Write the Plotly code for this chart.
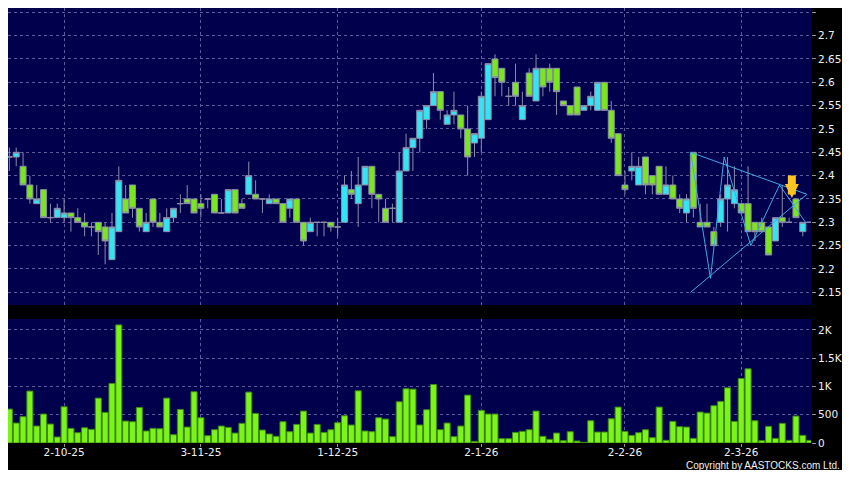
import plotly.graph_objects as go
from plotly.subplots import make_subplots

# daily OHLC, one bar per trading day (index 0 .. 117)
opens = [2.44, 2.44, 2.42, 2.38, 2.34, 2.37, 2.31, 2.31, 2.31, 2.32,
         2.31, 2.30, 2.29, 2.30, 2.29, 2.22, 2.28, 2.35, 2.38, 2.33,
         2.28, 2.35, 2.30, 2.28, 2.31, 2.34, 2.35, 2.35, 2.34, 2.35,
         2.36, 2.32, 2.32, 2.37, 2.34, 2.36, 2.36, 2.35, 2.34, 2.35,
         2.34, 2.33, 2.35, 2.30, 2.28, 2.30, 2.30, 2.30, 2.29, 2.30,
         2.37, 2.34, 2.38, 2.42, 2.36, 2.33, 2.33, 2.30, 2.41, 2.46,
         2.48, 2.52, 2.55, 2.58, 2.51, 2.53, 2.53, 2.50, 2.47, 2.48,
         2.52, 2.65, 2.63, 2.57, 2.60, 2.52, 2.62, 2.56, 2.63, 2.63,
         2.63, 2.56, 2.55, 2.59, 2.54, 2.55, 2.54, 2.60, 2.54, 2.49,
         2.38, 2.41, 2.38, 2.44, 2.40, 2.42, 2.36, 2.38, 2.35, 2.32,
         2.45, 2.30, 2.30, 2.28, 2.30, 2.35, 2.34, 2.34, 2.34, 2.30,
         2.30, 2.29, 2.26, 2.31, 2.30, 2.35, 2.28, 2.30]
highs = [2.46, 2.46, 2.45, 2.40, 2.38, 2.37, 2.34, 2.34, 2.35, 2.32,
         2.33, 2.32, 2.30, 2.30, 2.30, 2.32, 2.42, 2.38, 2.38, 2.33,
         2.32, 2.35, 2.32, 2.33, 2.33, 2.36, 2.38, 2.35, 2.36, 2.35,
         2.36, 2.35, 2.37, 2.37, 2.35, 2.43, 2.39, 2.35, 2.36, 2.35,
         2.34, 2.35, 2.35, 2.30, 2.31, 2.30, 2.30, 2.30, 2.31, 2.40,
         2.41, 2.44, 2.42, 2.42, 2.36, 2.35, 2.34, 2.45, 2.49, 2.48,
         2.54, 2.55, 2.62, 2.58, 2.54, 2.58, 2.53, 2.55, 2.49, 2.58,
         2.64, 2.66, 2.63, 2.59, 2.64, 2.58, 2.63, 2.66, 2.63, 2.64,
         2.63, 2.56, 2.55, 2.59, 2.55, 2.58, 2.60, 2.60, 2.56, 2.49,
         2.41, 2.45, 2.44, 2.44, 2.40, 2.42, 2.42, 2.40, 2.36, 2.36,
         2.45, 2.34, 2.34, 2.29, 2.36, 2.44, 2.42, 2.34, 2.42, 2.30,
         2.31, 2.29, 2.31, 2.38, 2.31, 2.35, 2.30, 2.30]
lows = [2.41, 2.42, 2.38, 2.34, 2.34, 2.31, 2.30, 2.31, 2.30, 2.28,
        2.30, 2.27, 2.27, 2.23, 2.21, 2.22, 2.28, 2.32, 2.31, 2.28,
        2.28, 2.29, 2.29, 2.28, 2.30, 2.32, 2.34, 2.32, 2.31, 2.33,
        2.32, 2.32, 2.32, 2.32, 2.33, 2.36, 2.35, 2.32, 2.34, 2.34,
        2.30, 2.31, 2.30, 2.25, 2.28, 2.27, 2.27, 2.28, 2.27, 2.30,
        2.35, 2.29, 2.38, 2.33, 2.30, 2.30, 2.30, 2.30, 2.41, 2.41,
        2.45, 2.50, 2.55, 2.52, 2.51, 2.51, 2.48, 2.40, 2.44, 2.45,
        2.52, 2.57, 2.57, 2.55, 2.55, 2.52, 2.57, 2.56, 2.57, 2.58,
        2.53, 2.55, 2.53, 2.53, 2.54, 2.54, 2.54, 2.54, 2.47, 2.40,
        2.36, 2.39, 2.38, 2.36, 2.36, 2.36, 2.36, 2.35, 2.32, 2.30,
        2.31, 2.29, 2.29, 2.25, 2.29, 2.28, 2.33, 2.32, 2.28, 2.26,
        2.28, 2.23, 2.26, 2.29, 2.30, 2.31, 2.27, 2.30]
closes = [2.44, 2.45, 2.38, 2.35, 2.35, 2.31, 2.31, 2.33, 2.32, 2.31,
          2.30, 2.29, 2.29, 2.28, 2.26, 2.29, 2.39, 2.32, 2.33, 2.29,
          2.30, 2.30, 2.29, 2.31, 2.33, 2.34, 2.34, 2.32, 2.33, 2.35,
          2.32, 2.32, 2.37, 2.32, 2.33, 2.40, 2.35, 2.35, 2.35, 2.34,
          2.30, 2.35, 2.30, 2.26, 2.30, 2.30, 2.30, 2.29, 2.29, 2.38,
          2.36, 2.38, 2.42, 2.36, 2.35, 2.30, 2.33, 2.41, 2.46, 2.48,
          2.54, 2.55, 2.58, 2.54, 2.53, 2.54, 2.50, 2.44, 2.49, 2.57,
          2.64, 2.61, 2.60, 2.57, 2.57, 2.55, 2.57, 2.63, 2.59, 2.60,
          2.58, 2.55, 2.53, 2.53, 2.55, 2.57, 2.60, 2.54, 2.48, 2.40,
          2.37, 2.42, 2.42, 2.38, 2.38, 2.36, 2.38, 2.35, 2.33, 2.35,
          2.33, 2.29, 2.29, 2.25, 2.35, 2.38, 2.37, 2.32, 2.28, 2.28,
          2.28, 2.23, 2.31, 2.30, 2.30, 2.31, 2.30, 2.30]
# volume in thousands of shares
volumes = [600, 353, 465, 918, 300, 512, 335, 106, 641, 259,
           182, 270, 241, 794, 541, 1053, 2088, 388, 376, 629,
           212, 259, 253, 794, 147, 594, 282, 906, 447, 129,
           235, 300, 276, 176, 347, 900, 523, 229, 159, 118,
           376, 200, 329, 565, 176, 329, 188, 235, 359, 482,
           318, 923, 212, 200, 447, 423, 112, 729, 959, 953,
           318, 588, 1035, 235, 353, 112, 300, 847, 29, 576,
           512, 512, 76, 76, 188, 206, 235, 565, 118, 65,
           176, 41, 200, 35, 12, 394, 194, 194, 429, 635,
           206, 135, 182, 235, 94, 635, 47, 382, 288, 282,
           82, 547, 529, 659, 735, 976, 382, 1141, 1312, 394,
           41, 294, 82, 347, 47, 476, 135, 47]

date_ticks = [8, 28, 48, 69, 90, 107]
date_labels = ["2-10-25", "3-11-25", "1-12-25", "2-1-26", "2-2-26", "2-3-26"]
price_ticks = [2.15, 2.2, 2.25, 2.3, 2.35, 2.4, 2.45, 2.5, 2.55, 2.6, 2.65, 2.7, 2.75]
price_labels = ["2.15", "2.2", "2.25", "2.3", "2.35", "2.4", "2.45", "2.5",
                "2.55", "2.6", "2.65", "2.7", "2.75"]
vol_ticks = [0, 500, 1000, 1500, 2000]
vol_labels = ["0", "500", "1K", "1.5K", "2K"]

# triangle pattern drawn over the last weeks
zigzag_x = [99.6, 102.5, 104.5, 108.4, 112.6, 116.4]
zigzag_y = [2.45, 2.18, 2.44, 2.25, 2.38, 2.30]
upper_x = [99.6, 116.6]
upper_y = [2.45, 2.36]
lower_x = [99.6, 116.6]
lower_y = [2.15, 2.36]
signal_x = 114.4
signal_y = 2.352

days = list(range(len(closes)))

BG = "#000000"
PANEL = "#00004C"
GRID = "#5C5C9C"
WICK = "#8C8CA8"
UP = "#33E4F2"
DOWN = "#7AE61E"
LINE = "#3FA9E6"
TXT = "#F0F0F0"

fig = make_subplots(rows=2, cols=1, shared_xaxes=True)

fig.add_trace(go.Candlestick(
    x=days, open=opens, high=highs, low=lows, close=closes,
    increasing=dict(fillcolor=UP, line=dict(color=WICK, width=1)),
    decreasing=dict(fillcolor=DOWN, line=dict(color=WICK, width=1)),
    showlegend=False, hoverinfo="skip"), row=1, col=1)

for xs, ys in [(upper_x, upper_y), (lower_x, lower_y), (zigzag_x, zigzag_y)]:
    fig.add_trace(go.Scatter(x=xs, y=ys, mode="lines",
                             line=dict(color=LINE, width=1),
                             showlegend=False, hoverinfo="skip"), row=1, col=1)

fig.add_trace(go.Bar(x=days, y=volumes, marker=dict(color="#7CF41A",
                     line=dict(color="#3C8A10", width=1)),
                     showlegend=False, hoverinfo="skip"), row=2, col=1)

fig.add_annotation(x=signal_x, y=signal_y, xref="x", yref="y", text="",
                   showarrow=True, ax=0, ay=-24, arrowhead=2, arrowsize=0.35,
                   arrowwidth=8, arrowcolor="#FFC41E")

axis_font = dict(family="DejaVu Sans", size=10.5, color=TXT)
fig.update_xaxes(range=[-0.2, 117.2], domain=[0, 1], showgrid=True,
                 gridcolor=GRID, griddash="3px,3px", gridwidth=1,
                 tickvals=date_ticks, ticktext=date_labels,
                 zeroline=False, showline=False)
fig.update_xaxes(showticklabels=False, ticks="", row=1, col=1)
fig.update_xaxes(ticks="outside", ticklen=3, tickcolor="#909090",
                 ticklabelstandoff=-4, tickfont=axis_font, row=2, col=1)

fig.update_yaxes(side="right", automargin=False,
                 showgrid=True, gridcolor=GRID, griddash="3px,3px",
                 zeroline=False, showline=False, ticks="outside",
                 ticklen=4, tickcolor="#909090", tickfont=axis_font)
fig.update_yaxes(range=[2.1228, 2.7592], domain=[0.3172, 1.0],
                 tickvals=price_ticks, ticktext=price_labels, row=1, col=1)
fig.update_yaxes(range=[0, 2193], domain=[0.0, 0.2851],
                 tickvals=vol_ticks, ticktext=vol_labels, row=2, col=1)

fig.add_annotation(x=1.0374, y=-0.0517, xref="paper", yref="paper",
                   xanchor="right", yanchor="middle", showarrow=False,
                   borderpad=0,
                   text="Copyright by AASTOCKS.com Ltd.",
                   font=dict(family="Liberation Sans", size=10, color=TXT))

fig.update_layout(width=834, height=462, paper_bgcolor=BG, plot_bgcolor=PANEL,
                  margin=dict(l=0, r=31, t=0, b=27),
                  boxgap=0.12, boxgroupgap=0, bargap=0.12,
                  xaxis_rangeslider_visible=False, showlegend=False)

fig.write_html("out.html")
